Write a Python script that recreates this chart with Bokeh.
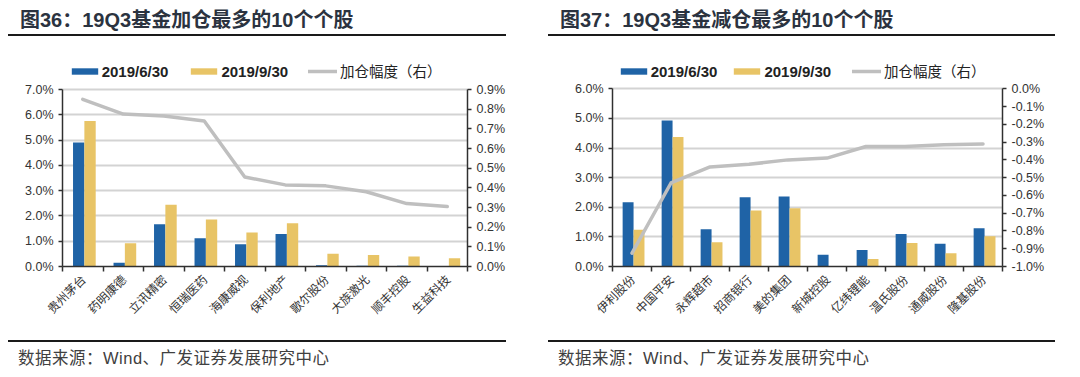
import math
from bokeh.plotting import figure
from bokeh.layouts import row, column
from bokeh.models import (Range1d, LinearAxis, FixedTicker, PrintfTickFormatter,
                          Legend, LegendItem, ColumnDataSource, Div)
from bokeh.embed import file_html
from bokeh.resources import INLINE

# ---------------- data ----------------
series_names = ["2019/6/30", "2019/9/30", "加仓幅度（右）"]
source_note = "数据来源：Wind、广发证券发展研究中心"

left_title = "图36：19Q3基金加仓最多的10个个股"
left_stocks = ["贵州茅台", "药明康德", "立讯精密", "恒瑞医药", "海康威视",
               "保利地产", "歌尔股份", "大族激光", "顺丰控股", "生益科技"]
left_q2 = [4.90, 0.15, 1.67, 1.12, 0.88, 1.29, 0.05, 0.03, 0.03, 0.01]
left_q3 = [5.75, 0.92, 2.44, 1.86, 1.34, 1.71, 0.50, 0.45, 0.40, 0.33]
left_change = [0.85, 0.775, 0.765, 0.74, 0.455, 0.415, 0.41, 0.38, 0.32, 0.305]
left_yticks = [0, 1, 2, 3, 4, 5, 6, 7]
left_rticks = [0.0, 0.1, 0.2, 0.3, 0.4, 0.5, 0.6, 0.7, 0.8, 0.9]

right_title = "图37：19Q3基金减仓最多的10个个股"
right_stocks = ["伊利股份", "中国平安", "永辉超市", "招商银行", "美的集团",
                "新城控股", "亿纬锂能", "温氏股份", "通威股份", "隆基股份"]
right_q2 = [2.17, 4.93, 1.26, 2.34, 2.36, 0.40, 0.56, 1.10, 0.77, 1.29]
right_q3 = [1.24, 4.37, 0.82, 1.89, 1.97, 0.00, 0.25, 0.79, 0.45, 1.02]
right_change = [-0.925, -0.53, -0.44, -0.425, -0.40, -0.39, -0.325, -0.325, -0.315, -0.31]
right_yticks = [0, 1, 2, 3, 4, 5, 6]
right_rticks = [-1.0, -0.9, -0.8, -0.7, -0.6, -0.5, -0.4, -0.3, -0.2, -0.1, 0.0]

# ---------------- style ----------------
BLUE = "#1f63a6"
GOLD = "#e8c466"
LINE = "#bfbfbf"
GRID = "#d3d3d3"
AXIS = "#303030"
TXT = "#333333"
TITLE_C = "#2b3340"
LATIN = "Liberation Sans"
CJK = "Noto Sans CJK SC"
FAMILY = "'Liberation Sans', 'Noto Sans CJK SC', sans-serif"
PW = 540          # width of each panel
FIG_H = 294       # height of the chart figure
TOP_B = 20        # border above the (extended) frame
BOT_B = 64        # border below the frame


def header(txt, width):
    return Div(text=txt, width=width, height=36, margin=(0, 0, 0, 8),
               styles={"font-family": FAMILY, "font-size": "20px", "font-weight": "bold",
                       "color": TITLE_C, "border-bottom": "2px solid #1a1a1a",
                       "box-sizing": "border-box", "padding": "8px 0 0 12px",
                       "line-height": "24px", "white-space": "nowrap"})


def footer(txt, width):
    return Div(text=txt, width=width, height=30, margin=(10, 0, 0, 8),
               styles={"font-family": FAMILY, "font-size": "16.5px", "font-weight": "normal",
                       "letter-spacing": "0.5px",
                       "color": "#404040", "border-top": "2px solid #1a1a1a",
                       "box-sizing": "border-box", "padding": "4px 0 0 10px",
                       "line-height": "24px", "white-space": "nowrap"})


def chart(stocks, q2, q3, change, yticks, rticks, geo):
    n = len(stocks)
    frame_h = FIG_H - TOP_B - BOT_B
    stretch = frame_h / geo["plot_h"]     # frame is taller than the gridded area: legend room
    p = figure(width=PW, height=FIG_H, x_range=Range1d(0, n),
               y_range=Range1d(yticks[0], yticks[0] + (yticks[-1] - yticks[0]) * stretch),
               output_backend="svg", toolbar_location=None,
               min_border_left=geo["left"], min_border_right=geo["right"],
               min_border_top=TOP_B, min_border_bottom=BOT_B)
    p.outline_line_color = None
    p.extra_y_ranges = {"chg": Range1d(rticks[0],
                                       rticks[0] + (rticks[-1] - rticks[0]) * stretch)}
    src = ColumnDataSource(dict(
        stock=stocks,
        x1=[i + 0.40 for i in range(n)],
        x2=[i + 0.68 for i in range(n)],
        xc=[i + 0.5 for i in range(n)],
        q2=q2, q3=q3, chg=change))
    r1 = p.vbar(x="x1", top="q2", bottom=0, width=0.28, source=src,
                fill_color=BLUE, line_color=None)
    r2 = p.vbar(x="x2", top="q3", bottom=0, width=0.28, source=src,
                fill_color=GOLD, line_color=None)
    r3 = p.line(x="xc", y="chg", source=src, y_range_name="chg",
                line_color=LINE, line_width=3.5, line_join="round", line_cap="round")

    # x axis: labels at centres, tick marks at category boundaries
    xa = p.xaxis[0]
    xa.ticker = FixedTicker(ticks=[i + 0.5 for i in range(n)],
                            minor_ticks=list(range(n + 1)))
    xa.major_label_overrides = {i + 0.5: s for i, s in enumerate(stocks)}
    xa.major_label_orientation = math.pi / 4
    xa.major_tick_line_color = None
    xa.minor_tick_line_color = AXIS
    xa.minor_tick_in = 0
    xa.minor_tick_out = 5
    xa.minor_tick_line_width = 1.5
    xa.axis_line_color = AXIS
    xa.axis_line_width = 1.5
    xa.major_label_text_font = CJK
    xa.major_label_text_font_size = "12px"
    xa.major_label_text_color = TXT
    xa.major_label_standoff = 4

    ya = p.yaxis[0]
    ya.ticker = FixedTicker(ticks=yticks)
    ya.formatter = PrintfTickFormatter(format="%.1f%%")
    ya.bounds = (yticks[0], yticks[-1])
    ra = LinearAxis(y_range_name="chg", ticker=FixedTicker(ticks=rticks),
                    formatter=PrintfTickFormatter(format="%.1f%%"),
                    bounds=(rticks[0], rticks[-1]))
    p.add_layout(ra, "right")
    for a in (ya, ra):
        a.major_tick_in = 0
        a.major_tick_out = 4
        a.minor_tick_line_color = None
        a.major_tick_line_color = AXIS
        a.major_tick_line_width = 1.5
        a.axis_line_color = AXIS
        a.axis_line_width = 1.5
        a.major_label_text_font = LATIN
        a.major_label_text_font_size = "12.5px"
        a.major_label_text_color = TXT
        a.major_label_standoff = 5

    p.xgrid.visible = False
    p.ygrid.grid_line_color = GRID
    p.ygrid.grid_line_width = 2

    common = dict(orientation="horizontal", glyph_height=8, label_height=20,
                  padding=0, margin=0, border_line_color=None,
                  background_fill_alpha=0, label_text_color="#222222")
    leg1 = Legend(items=[LegendItem(label=series_names[0], renderers=[r1]),
                         LegendItem(label=series_names[1], renderers=[r2])],
                  location=(geo["lx1"], geo["ly"]), glyph_width=33, label_standoff=1,
                  spacing=geo["sp"], label_text_font=LATIN,
                  label_text_font_style="bold", label_text_font_size="15px", **common)
    leg2 = Legend(items=[LegendItem(label=series_names[2], renderers=[r3])],
                  location=(geo["lx2"], geo["ly"]), glyph_width=29, label_standoff=3,
                  label_text_font=CJK, label_text_font_size="14.5px", **common)
    p.add_layout(leg1, "center")
    p.add_layout(leg2, "center")
    return p


lh = header(left_title, 498)
lc = chart(left_stocks, left_q2, left_q3, left_change, left_yticks, left_rticks,
           dict(left=62, right=73, plot_h=177, lx1=5.7, lx2=246, ly=185, sp=19))
lf = footer(source_note, 498)

rh = header(right_title, 507)
rc = chart(right_stocks, right_q2, right_q3, right_change, right_yticks, right_rticks,
           dict(left=72, right=78, plot_h=177.7, lx1=4.7, lx2=240, ly=185, sp=13))
rf = footer(source_note, 507)

layout = row(column(lh, lc, lf), column(rh, rc, rf))
open("out.html", "w").write(file_html(layout, INLINE))
